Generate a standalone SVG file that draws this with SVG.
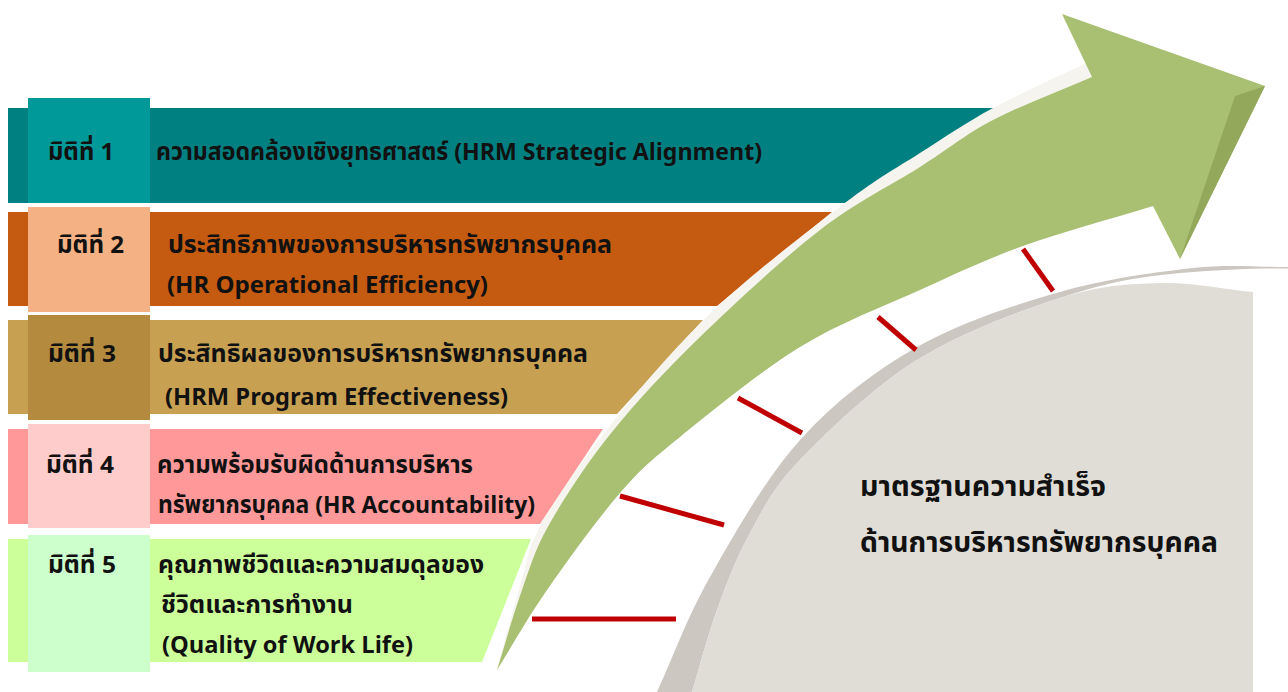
<svg xmlns="http://www.w3.org/2000/svg" width="1288" height="692" viewBox="0 0 1288 692">
<defs>
<style>
.t{font-family:"Noto Sans Thai","Noto Sans","DejaVu Sans",sans-serif;font-size:24px;font-weight:bold;fill:#111;}
.lab{font-family:"Noto Sans Thai","Noto Sans","DejaVu Sans",sans-serif;font-size:24px;font-weight:bold;fill:#111;}
.big{font-family:"Noto Sans Thai","Noto Sans","DejaVu Sans",sans-serif;font-size:28px;font-weight:bold;fill:#111;}
.red{stroke:#C00000;stroke-width:5;fill:none;}
</style>
</defs>
<rect width="1288" height="692" fill="#FFFFFF"/>
<g id="dim1">
<polygon points="8,108 994,108 845,203 8,203" fill="#008080"/>
<rect x="28" y="98" width="122" height="105" fill="#009999"/>
<text class="lab" x="48" y="160" textLength="66" lengthAdjust="spacingAndGlyphs">มิติที่ 1</text>
<text class="t" x="156" y="160" textLength="606" lengthAdjust="spacingAndGlyphs">ความสอดคล้องเชิงยุทธศาสตร์ (HRM Strategic Alignment)</text>
</g>
<g id="dim2">
<polygon points="8,212 832,212 717,306 8,306" fill="#C55A11"/>
<rect x="28" y="207" width="122" height="105" fill="#F4B183"/>
<text class="lab" x="57" y="253" textLength="67" lengthAdjust="spacingAndGlyphs">มิติที่ 2</text>
<text class="t" x="168" y="253" textLength="444" lengthAdjust="spacingAndGlyphs">ประสิทธิภาพของการบริหารทรัพยากรบุคคล</text>
<text class="t" x="167" y="293" textLength="321" lengthAdjust="spacingAndGlyphs">(HR Operational Efficiency)</text>
</g>
<g id="dim3">
<polygon points="8,320 703,320 617,414 8,414" fill="#C8A052"/>
<rect x="28" y="315" width="122" height="105" fill="#B38A3E"/>
<text class="lab" x="48" y="362" textLength="68" lengthAdjust="spacingAndGlyphs">มิติที่ 3</text>
<text class="t" x="158" y="362" textLength="430" lengthAdjust="spacingAndGlyphs">ประสิทธิผลของการบริหารทรัพยากรบุคคล</text>
<text class="t" x="165" y="405" textLength="343" lengthAdjust="spacingAndGlyphs">(HRM Program Effectiveness)</text>
</g>
<g id="dim4">
<polygon points="8,429 603,429 540,524 8,524" fill="#FF9999"/>
<rect x="28" y="424" width="122" height="104" fill="#FFCCCC"/>
<text class="lab" x="46" y="473" textLength="68" lengthAdjust="spacingAndGlyphs">มิติที่ 4</text>
<text class="t" x="157" y="473" textLength="316" lengthAdjust="spacingAndGlyphs">ความพร้อมรับผิดด้านการบริหาร</text>
<text class="t" x="158" y="513" textLength="377" lengthAdjust="spacingAndGlyphs">ทรัพยากรบุคคล (HR Accountability)</text>
</g>
<g id="dim5">
<polygon points="8,539 531,539 482,662 8,662" fill="#CCFF99"/>
<rect x="28" y="535" width="122" height="137" fill="#CCFFCC"/>
<text class="lab" x="48" y="573" textLength="68" lengthAdjust="spacingAndGlyphs">มิติที่ 5</text>
<text class="t" x="158" y="573" textLength="326" lengthAdjust="spacingAndGlyphs">คุณภาพชีวิตและความสมดุลของ</text>
<text class="t" x="161" y="613" textLength="192" lengthAdjust="spacingAndGlyphs">ชีวิตและการทำงาน</text>
<text class="t" x="162" y="653" textLength="251" lengthAdjust="spacingAndGlyphs">(Quality of Work Life)</text>
</g>
<g id="standard">
<path d="M657,692 C674.7,653.7 686.2,619 710,577 C733.8,535 765.5,478.3 800,440 C834.5,401.7 873.7,371.7 917,347 C960.3,322.3 1014,305.2 1060,292 C1106,278.8 1155,272.2 1193,268 C1231,263.8 1256.3,267.3 1288,267 L1288,268.5 C1240,268 1170,272 1127,280 C1100,285 1075,293 1060,298 C1019.5,310.8 960.3,333 917,360 C873.7,387 827.8,431.2 800,460 C772.2,488.8 763.8,508 750,533 C736.2,558 726.7,583.5 717,610 C707.3,636.5 700.3,664.7 692,692 Z" fill="#CCC7C0"/>
<path d="M692,692 C700.3,664.7 707.3,636.5 717,610 C726.7,583.5 736.2,558 750,533 C763.8,508 772.2,488.8 800,460 C827.8,431.2 873.7,387 917,360 C960.3,333 1019.5,310.8 1060,298 C1100.5,285.2 1127.8,284 1160,283 C1192.2,282 1222,289 1253,292 L1253,692 Z" fill="#E0DDD7"/>
<text class="big" x="860" y="496" textLength="246" lengthAdjust="spacingAndGlyphs">มาตรฐานความสำเร็จ</text>
<text class="big" x="860" y="552" textLength="358" lengthAdjust="spacingAndGlyphs">ด้านการบริหารทรัพยากรบุคคล</text>
</g>
<g id="connectors">
<line class="red" x1="1023" y1="249" x2="1053" y2="291"/>
<line class="red" x1="878" y1="317" x2="916" y2="350"/>
<line class="red" x1="738" y1="398" x2="802" y2="433"/>
<line class="red" x1="620" y1="496" x2="724" y2="525"/>
<line class="red" x1="532" y1="619" x2="676" y2="619"/>
</g>
<g id="arrow">
<path d="M497,670 C504.3,643.3 511.5,614.5 519,590 C526.5,565.5 525.7,551.8 542,523 C558.3,494.2 587.8,453 617,417 C646.2,381 679,342.7 717,307 C755,271.3 811.2,228.7 845,203 C878.8,177.3 895.3,168.8 920,153 C944.7,137.2 965.3,123 993,108 C1020.7,93 1055,78 1086,63 L1092,77 L1153,206 C1109.7,219.3 1061.8,232 1023,246 C984.2,260 957.2,273.2 920,290 C882.8,306.8 840,322.5 800,347 C760,371.5 710,412.7 680,437 C650,461.3 642.2,467.5 620,493 C597.8,518.5 567.5,560.5 547,590 C526.5,619.5 513.7,643.3 497,670 Z" fill="#F6F4EE"/>
<path d="M497,670 C505.3,643.3 513.2,614.5 522,590 C530.8,565.5 535,549.3 550,523 C565,496.7 587,463 612,432 C637,401 665.3,370.7 700,337 C734.7,303.3 783.3,258.3 820,230 C856.7,201.7 891.2,185.3 920,167 C948.8,148.7 964.3,135 993,120 C1021.7,105 1059,91.3 1092,77 L1062,14 L1265,86 L1180,259 L1153,206 C1109.7,219.3 1061.8,232 1023,246 C984.2,260 957.2,273.2 920,290 C882.8,306.8 840,322.5 800,347 C760,371.5 710,412.7 680,437 C650,461.3 642.2,467.5 620,493 C597.8,518.5 567.5,560.5 547,590 C526.5,619.5 513.7,643.3 497,670 Z" fill="#A9C073"/>
<polygon points="1265,86 1235,96 1180,259" fill="#94A85C"/>
</g>
</svg>
